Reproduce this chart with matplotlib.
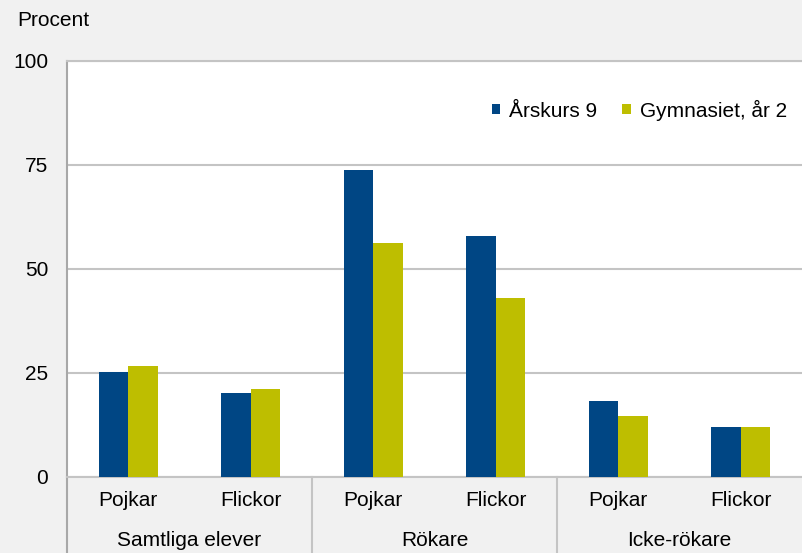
import matplotlib
matplotlib.use("Agg")
import matplotlib.pyplot as plt
import matplotlib.transforms as mtransforms
import numpy as np

# Data
groups = ["Samtliga elever", "Rökare", "Icke-rökare"]
sexes = ["Pojkar", "Flickor"]
series = ["Årskurs 9", "Gymnasiet, år 2"]
arskurs9 = [25.2, 20.1, 73.8, 58.0, 18.3, 11.9]
gymnasiet = [26.7, 21.1, 56.3, 43.0, 14.7, 11.9]
yticks = [0, 25, 50, 75, 100]

BLUE, YELLOW = "#004684", "#bebe00"
GRID = "#c4c4c4"
BG = "#f1f1f1"

plt.rcParams["font.family"] = ["Liberation Sans", "DejaVu Sans"]
plt.rcParams["font.size"] = 15

W, H = 802, 553
fig = plt.figure(figsize=(W / 100, H / 100), dpi=100, facecolor=BG)
ax = fig.add_axes([67 / W, (H - 477) / H, 735 / W, 416 / H])
ax.set_facecolor("white")

n = len(arskurs9)
x = np.arange(n)
bw = 0.24
b1 = ax.bar(x - bw / 2, arskurs9, bw, color=BLUE, zorder=3, label=series[0])
b2 = ax.bar(x + bw / 2, gymnasiet, bw, color=YELLOW, zorder=3, label=series[1])

ax.set_xlim(-0.5, n - 0.5)
ax.set_ylim(0, 100)
ax.set_yticks(yticks)
ax.set_xticks([])
ax.tick_params(axis="y", length=0, pad=13.5, labelsize=15)
ax.yaxis.grid(True, color=GRID, lw=1.5, zorder=0)

for side, sp in ax.spines.items():
    sp.set_color("#a8a8a8" if side == "left" else GRID)
    sp.set_linewidth(1.5)
ax.spines["right"].set_visible(False)

# category labels below the axis
trans = mtransforms.blended_transform_factory(ax.transData, fig.transFigure)
for i in range(n):
    ax.text(i, 1 - 501 / H, sexes[i % 2], transform=trans,
            ha="center", va="center", fontsize=15)
for g, name in enumerate(groups):
    ax.text(2 * g + 0.5, 1 - 541 / H, name, transform=trans,
            ha="center", va="center", fontsize=15)

# separators between groups, running down to the figure edge
for xs, col in [(-0.5, "#a8a8a8"), (1.5, GRID), (3.5, GRID)]:
    ax.plot([xs, xs], [0, -76 / 416], color=col, lw=1.5, clip_on=False,
            transform=mtransforms.blended_transform_factory(ax.transData, ax.transAxes))

fig.text(17 / W, 1 - 20 / H, "Procent", ha="left", va="center", fontsize=15)

ax.legend(handles=[b1, b2], loc="center right", bbox_to_anchor=(0.997, (477 - 110) / 416),
          ncol=2, frameon=False, fontsize=15, handlelength=0.4, handleheight=0.4,
          handletextpad=0.45, columnspacing=1.2, borderaxespad=0.2)

fig.savefig("out.png", dpi=100, facecolor=BG)
